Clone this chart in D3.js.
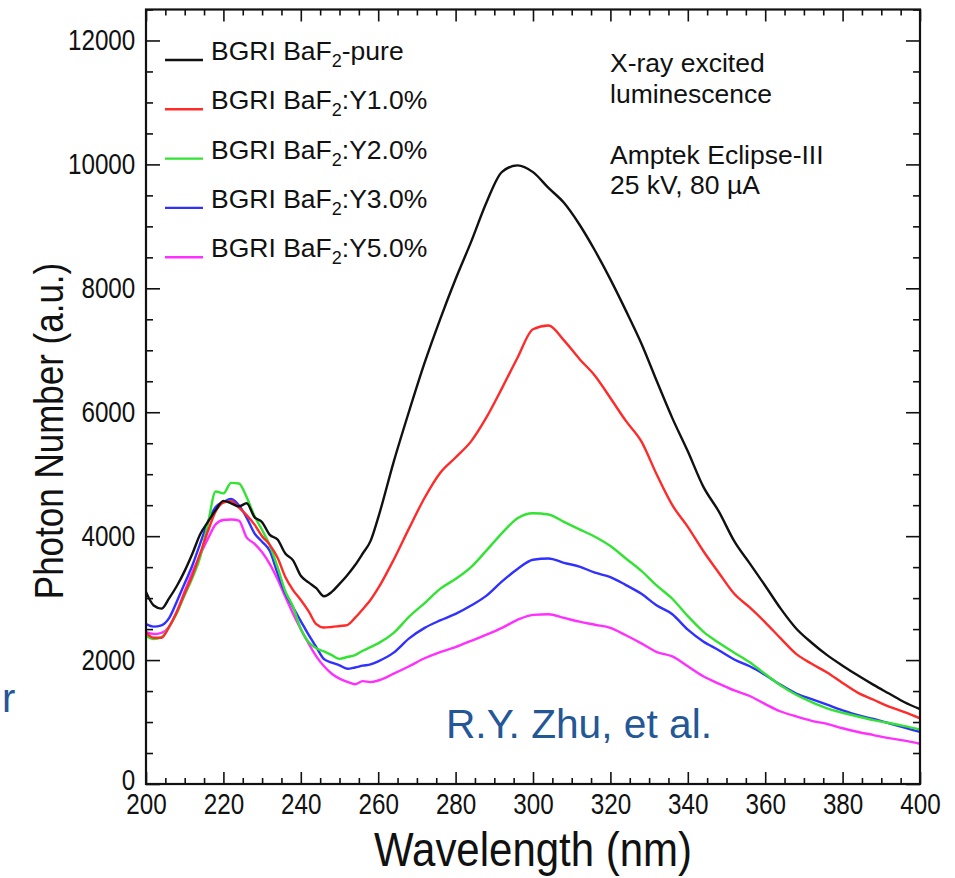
<!DOCTYPE html>
<html>
<head>
<meta charset="utf-8">
<script src="https://cdn.jsdelivr.net/npm/d3@7"></script>
<style>
  html, body { margin: 0; padding: 0; background: #fff; }
  svg { display: block; }
  text { font-family: "Liberation Sans", Arial, Helvetica, sans-serif; fill: #111; }
</style>
</head>
<body>
<svg id="chart" width="955" height="878"></svg>
<script>
// Wavelength grid (nm)
const wavelengths = [200,202,204,206,208,210,212,214,216,218,220,222,224,226,228,230,232,234,236,238,240,242,244,246,248,250,252,254,256,258,
  260,264,268,272,276,280,284,288,292,296,300,304,308,312,316,320,324,328,332,336,340,344,348,352,356,360,364,368,372,376,380,384,388,392,396,400];

// Photon number (a.u.) per sample
const pureValues = [3100,2880,2830,3000,3200,3440,3720,4030,4230,4420,4570,4530,4480,4530,4310,4225,4020,3945,3720,3610,3360,3255,3160,3030,3100,3230,3370,3530,3720,3920,
  4300,5200,6020,6800,7500,8150,8750,9390,9880,9985,9875,9620,9380,9030,8610,8145,7640,7110,6500,5905,5370,4800,4400,3920,3560,3200,2830,2510,2280,2080,1910,1750,1600,1460,1320,1210];
const y1Values = [2445,2360,2360,2540,2780,3080,3370,3720,4080,4400,4540,4565,4460,4340,4190,4000,3860,3650,3340,3130,2970,2790,2580,2525,2535,2550,2565,2680,2820,2970,
  3160,3620,4130,4620,5020,5270,5530,5920,6390,6880,7340,7400,7160,6860,6590,6230,5860,5530,4990,4500,4150,3760,3410,3070,2850,2610,2350,2100,1940,1800,1630,1470,1360,1250,1160,1060];
const y2Values = [2390,2340,2370,2540,2760,3050,3330,3660,4200,4720,4690,4860,4850,4630,4330,4100,3850,3500,3110,2860,2500,2290,2190,2140,2080,2020,2050,2080,2150,2210,
  2270,2440,2700,2920,3150,3310,3500,3770,4050,4290,4370,4350,4230,4110,3990,3840,3640,3440,3200,2990,2710,2460,2280,2120,1965,1775,1590,1440,1320,1220,1150,1090,1030,985,935,880];
const y3Values = [2580,2540,2560,2680,2950,3240,3530,3880,4230,4470,4550,4600,4500,4300,4050,3910,3760,3400,3080,2850,2630,2410,2210,2015,1960,1915,1860,1880,1910,1930,
  1980,2120,2350,2520,2640,2745,2880,3040,3270,3470,3620,3640,3570,3510,3410,3340,3210,3070,2880,2740,2490,2300,2160,2010,1900,1760,1600,1460,1370,1280,1190,1110,1050,980,910,840];
const y5Values = [2450,2420,2440,2540,2790,3110,3420,3700,3960,4190,4260,4270,4250,3980,3880,3740,3550,3305,3020,2750,2500,2270,2060,1900,1780,1700,1650,1610,1660,1645,
  1670,1780,1900,2030,2130,2210,2310,2410,2520,2650,2730,2740,2680,2620,2570,2520,2400,2270,2130,2060,1900,1740,1620,1510,1420,1290,1170,1090,1020,970,900,840,790,740,700,650];

const seriesSuffixes = ["-pure", ":Y1.0%", ":Y2.0%", ":Y3.0%", ":Y5.0%"];
const seriesColors = ["#111111", "#ff2a2a", "#33e333", "#3030ff", "#ff30ff"];
const seriesValues = [pureValues, y1Values, y2Values, y3Values, y5Values];

const xTicks = [200,220,240,260,280,300,320,340,360,380,400];
const yTicks = [0,2000,4000,6000,8000,10000,12000];

const svg = d3.select("#chart");
const pLeft = 146, pRight = 920, pTop = 9.5, pBottom = 784;

const x = d3.scaleLinear().domain([200, 400]).range([pLeft, pRight]);
const y = d3.scaleLinear().domain([0, 12500]).range([pBottom, pTop]);

// Curves
const line = d3.line()
  .x((d, i) => x(wavelengths[i]))
  .y(d => y(d))
  .curve(d3.curveMonotoneX);

const plot = svg.append("g");
plot.append("defs").append("clipPath").attr("id", "clip")
  .append("rect").attr("x", pLeft).attr("y", pTop).attr("width", pRight - pLeft).attr("height", pBottom - pTop);

seriesValues.slice().reverse().forEach((vals, k) => {
  const i = seriesValues.length - 1 - k;
  plot.append("path")
    .attr("clip-path", "url(#clip)")
    .attr("d", line(vals))
    .attr("fill", "none")
    .attr("stroke", seriesColors[i])
    .attr("stroke-width", 2.4)
    .attr("stroke-linejoin", "round");
});

// Axes: ticks point inward on all four sides
const xMinor = d3.range(200, 401, 5).filter(v => v % 20 !== 0);
const yMinor = d3.range(0, 12501, 500).filter(v => v % 2000 !== 0);

svg.append("g").attr("transform", `translate(0,${pBottom})`)
  .call(d3.axisBottom(x).tickValues(xTicks).tickSize(-12).tickPadding(8).tickFormat(d3.format("d")))
  .call(g => g.select(".domain").remove());
svg.append("g").attr("transform", `translate(0,${pBottom})`)
  .call(d3.axisBottom(x).tickValues(xMinor).tickSize(-6).tickFormat(""))
  .call(g => g.select(".domain").remove());
svg.append("g").attr("transform", `translate(0,${pTop})`)
  .call(d3.axisTop(x).tickValues(xTicks).tickSize(-12).tickFormat(""))
  .call(g => g.select(".domain").remove());
svg.append("g").attr("transform", `translate(0,${pTop})`)
  .call(d3.axisTop(x).tickValues(xMinor).tickSize(-6).tickFormat(""))
  .call(g => g.select(".domain").remove());

const yAxisG = svg.append("g").attr("transform", `translate(${pLeft},0)`)
  .call(d3.axisLeft(y).tickValues(yTicks).tickSize(-14).tickPadding(11).tickFormat(d3.format("d")))
  .call(g => g.select(".domain").remove());
svg.append("g").attr("transform", `translate(${pLeft},0)`)
  .call(d3.axisLeft(y).tickValues(yMinor).tickSize(-7).tickFormat(""))
  .call(g => g.select(".domain").remove());
svg.append("g").attr("transform", `translate(${pRight},0)`)
  .call(d3.axisRight(y).tickValues(yTicks).tickSize(-14).tickFormat(""))
  .call(g => g.select(".domain").remove());
svg.append("g").attr("transform", `translate(${pRight},0)`)
  .call(d3.axisRight(y).tickValues(yMinor).tickSize(-7).tickFormat(""))
  .call(g => g.select(".domain").remove());

svg.selectAll(".tick line").attr("stroke", "#111").attr("stroke-width", 1.6);
// Tall, slightly condensed tick numerals
svg.selectAll(".tick text")
  .attr("font-size", 25)
  .attr("font-family", "'Liberation Sans', Arial, sans-serif")
  .attr("transform", "scale(0.97,1.15)")
  .attr("fill", "#111");
// The zero label sits just above the first wavelength label
yAxisG.selectAll(".tick text").filter(d => d === 0).attr("dy", "0.2em");

// Frame
svg.append("rect")
  .attr("x", pLeft).attr("y", pTop)
  .attr("width", pRight - pLeft).attr("height", pBottom - pTop)
  .attr("fill", "none").attr("stroke", "#111").attr("stroke-width", 2.2);

// Axis titles
svg.append("text")
  .attr("transform", `translate(${(pLeft + pRight) / 2},866) scale(1,1.14)`)
  .attr("text-anchor", "middle").attr("font-size", 42)
  .text("Wavelength (nm)");
svg.append("text")
  .attr("transform", "translate(63,431) rotate(-90) scale(1,1.15)")
  .attr("text-anchor", "middle").attr("font-size", 35)
  .text("Photon Number (a.u.)");

// Legend
const legend = svg.append("g");
seriesSuffixes.forEach((suf, i) => {
  const yy = 60 + i * 49.3;
  legend.append("line")
    .attr("x1", 165).attr("x2", 203).attr("y1", yy).attr("y2", yy)
    .attr("stroke", seriesColors[i]).attr("stroke-width", 2.4);
  const t = legend.append("text").attr("x", 211).attr("y", yy).attr("font-size", 26.5);
  t.append("tspan").text("BGRI BaF");
  t.append("tspan").attr("font-size", 18).attr("dy", 7).text("2");
  t.append("tspan").attr("dy", -7).text(suf);
});

// Measurement conditions
const notes = ["X-ray excited", "luminescence", "", "Amptek Eclipse-III", "25 kV, 80 \u00B5A"];
notes.forEach((s, i) => {
  if (!s) return;
  svg.append("text").attr("x", 610).attr("y", 72 + i * 30.5)
    .attr("font-size", 26.5).text(s);
});

// Citation
svg.append("text")
  .attr("x", 446).attr("y", 738)
  .attr("font-family", "Lato, 'Open Sans', sans-serif")
  .attr("font-size", 40)
  .attr("textLength", 266).attr("lengthAdjust", "spacingAndGlyphs")
  .style("fill", "#245796")
  .text("R.Y. Zhu, et al.");
svg.append("text")
  .attr("x", 2).attr("y", 712)
  .attr("font-family", "Lato, 'Open Sans', sans-serif")
  .attr("font-size", 40)
  .style("fill", "#245796")
  .text("r");
</script>
</body>
</html>
